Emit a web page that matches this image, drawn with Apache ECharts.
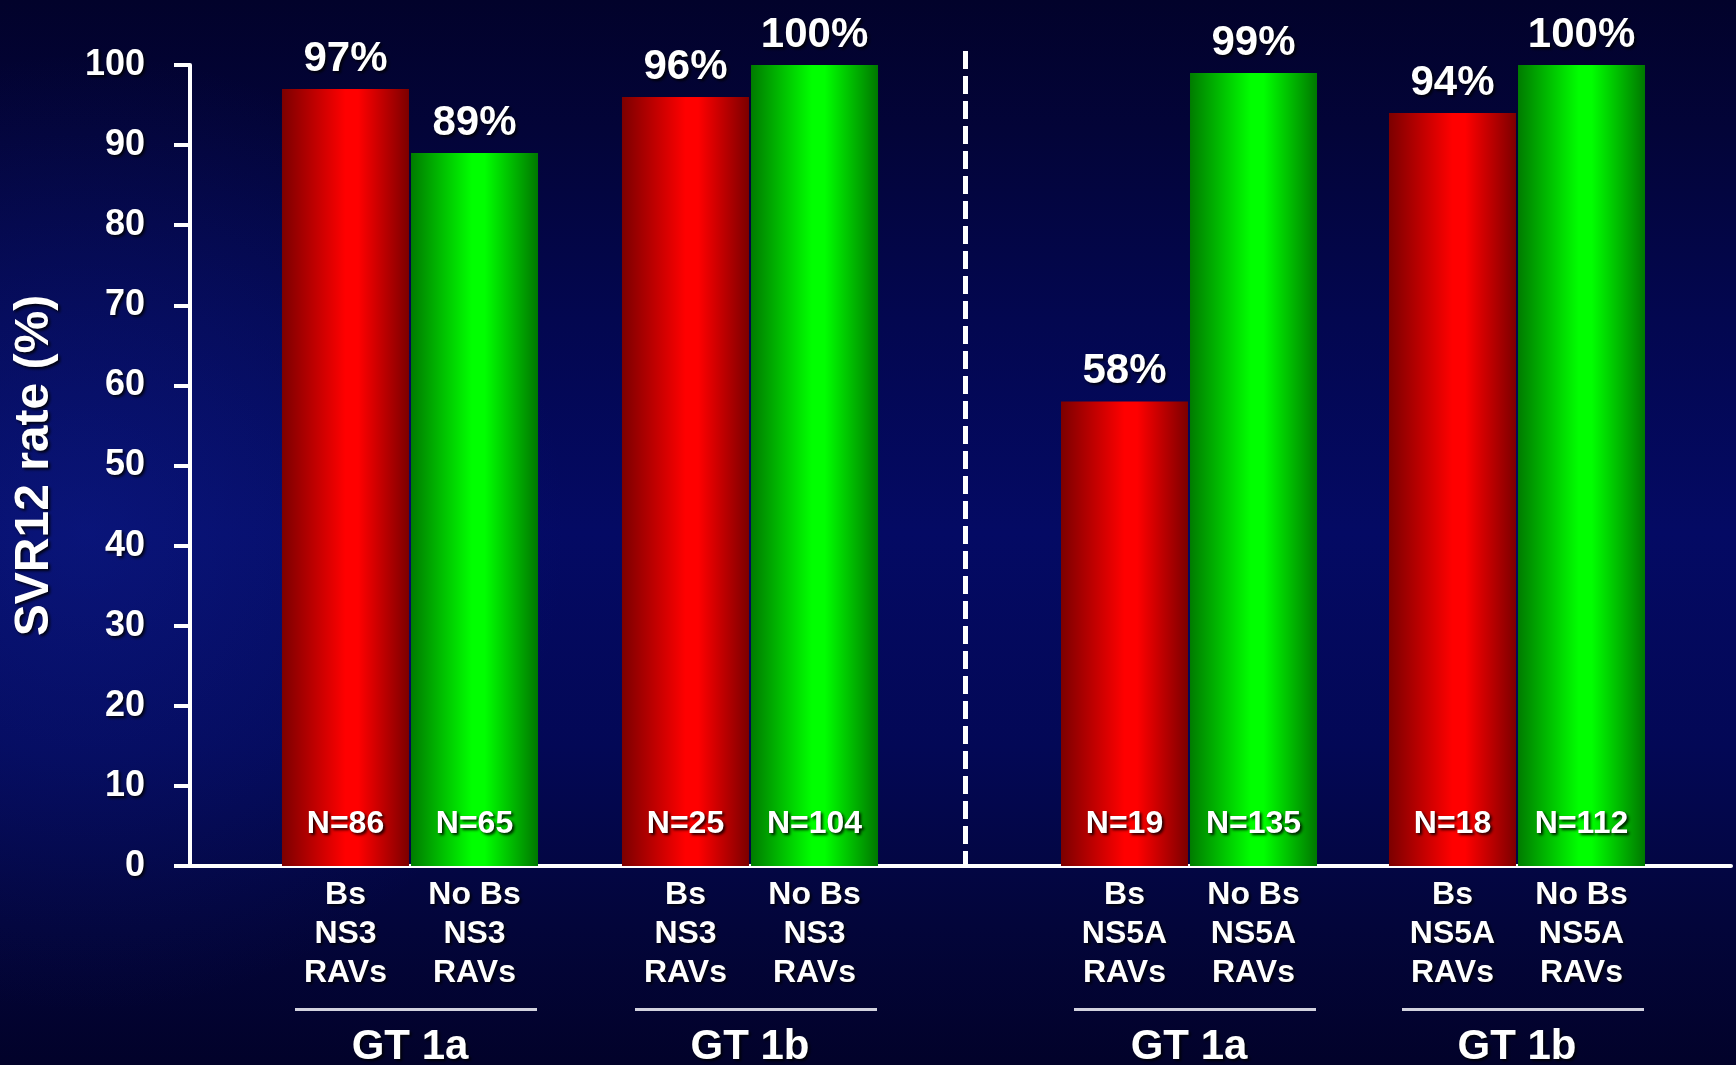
<!DOCTYPE html>
<html>
<head>
<meta charset="utf-8">
<script src="https://cdn.jsdelivr.net/npm/echarts@6/dist/echarts.min.js"></script>
<style>
  html, body { margin: 0; padding: 0; background: #03042e; }
  #chart { width: 1736px; height: 1065px; }
</style>
</head>
<body>
<div id="chart"></div>
<script>
// SVR12 rates by baseline RAV status, genotype 1a / 1b
const groups = ['GT 1a', 'GT 1b'];

const ns3Bs = [97, 96];
const ns3NoBs = [89, 100];
const ns3BsN = [86, 25];
const ns3NoBsN = [65, 104];

const ns5aBs = [58, 94];
const ns5aNoBs = [99, 100];
const ns5aBsN = [19, 18];
const ns5aNoBsN = [135, 112];

const ns3Tags = [['Bs', 'NS3', 'RAVs'], ['No Bs', 'NS3', 'RAVs']];
const ns5aTags = [['Bs', 'NS5A', 'RAVs'], ['No Bs', 'NS5A', 'RAVs']];

const yMin = 0, yMax = 100, yStep = 10;
const yName = 'SVR12 rate (%)';

const FONT = '"Liberation Sans", Arial, sans-serif';
const shadow = {
  textShadowColor: 'rgba(0,0,0,0.85)',
  textShadowBlur: 3,
  textShadowOffsetX: 2,
  textShadowOffsetY: 2
};

// layout
const W = 1736, H = 1065;
const TOP = 65, BOTTOM = 199;
const BAR_W = 127;
const leftGrid = { left: 240, right: 816 };
const rightGrid = { left: 1025, right: 55 };

const redFill = new echarts.graphic.LinearGradient(0, 0, 1, 0, [
  { offset: 0, color: '#7c0000' },
  { offset: 0.5, color: '#ff0000' },
  { offset: 0.6, color: '#ff0000' },
  { offset: 1, color: '#7c0000' }
]);
const greenFill = new echarts.graphic.LinearGradient(0, 0, 1, 0, [
  { offset: 0, color: '#007c00' },
  { offset: 0.48, color: '#00ff00' },
  { offset: 0.58, color: '#00ff00' },
  { offset: 1, color: '#007800' }
]);

const subStyle = Object.assign({
  width: 129, align: 'center', fontSize: 32, lineHeight: 39,
  fontWeight: 'bold', fontFamily: FONT, color: '#ffffff'
}, shadow);

function groupLabel(tags) {
  return function (value) {
    const rows = [0, 1, 2].map(i => '{a|' + tags[0][i] + '}{b|' + tags[1][i] + '}');
    return rows.join('\n') + '\n{sp|}{hr|}\n{g|' + value + '}';
  };
}

function categoryAxis(gridIndex, tags, showLabel) {
  return {
    type: 'category',
    gridIndex: gridIndex,
    data: groups,
    axisLine: { show: false },
    axisTick: { show: false },
    axisLabel: showLabel ? {
      show: true,
      interval: 0,
      margin: 10,
      formatter: groupLabel(tags),
      color: '#ffffff',
      fontFamily: FONT,
      fontWeight: 'bold',
      ...shadow,
      rich: {
        a: subStyle,
        b: subStyle,
        sp: { width: 12, height: 3, lineHeight: 33 },
        hr: { width: 242, height: 3, lineHeight: 33, backgroundColor: '#d2d2de' },
        g: Object.assign({ fontSize: 42, lineHeight: 43, fontWeight: 'bold', fontFamily: FONT, color: '#ffffff' }, shadow)
      }
    } : { show: false }
  };
}

function hiddenValueAxis(gridIndex) {
  return {
    type: 'value', gridIndex: gridIndex, min: yMin, max: yMax,
    axisLine: { show: false }, axisTick: { show: false },
    axisLabel: { show: false }, splitLine: { show: false }
  };
}

function barSeries(name, xIdx, yIdx, data, fill) {
  return {
    name: name, type: 'bar', xAxisIndex: xIdx, yAxisIndex: yIdx,
    data: data, barWidth: BAR_W, barGap: '1.6%',
    itemStyle: { color: fill },
    label: Object.assign({
      show: true, position: 'top', distance: 9,
      formatter: '{c}%', fontSize: 42, fontWeight: 'bold',
      fontFamily: FONT, color: '#ffffff'
    }, shadow)
  };
}

function countSeries(name, xIdx, yIdx, data, counts) {
  return {
    name: name, type: 'bar', xAxisIndex: xIdx, yAxisIndex: yIdx,
    data: data, barWidth: BAR_W, barGap: '1.6%', silent: true, z: 3,
    itemStyle: { color: 'rgba(0,0,0,0)' },
    label: Object.assign({
      show: true, position: 'insideBottom', distance: 26,
      formatter: p => 'N=' + counts[p.dataIndex],
      fontSize: 32, fontWeight: 'bold', fontFamily: FONT, color: '#ffffff'
    }, shadow)
  };
}

// dashed separator between the NS3 and NS5A panels
const dividerX = (W - leftGrid.right + rightGrid.left) / 2 - 7;

const gridBase = { top: TOP, bottom: BOTTOM, outerBoundsMode: 'none', containLabel: false };

const option = {
  animation: false,
  backgroundColor: '#03042e',
  textStyle: { fontFamily: FONT },
  graphic: [
    {
      type: 'rect', z: -20, silent: true,
      shape: { x: 0, y: 0, width: W, height: H },
      style: {
        fill: new echarts.graphic.LinearGradient(0, 0, 0, 1, [
          { offset: 0, color: '#02022b' },
          { offset: 0.12, color: '#030438' },
          { offset: 0.3, color: '#030750' },
          { offset: 0.5, color: '#040a64' },
          { offset: 0.7, color: '#030856' },
          { offset: 0.87, color: '#03053a' },
          { offset: 1, color: '#02022a' }
        ])
      }
    },
    {
      type: 'rect', z: -19, silent: true,
      shape: { x: 0, y: 0, width: W, height: H },
      style: {
        fill: new echarts.graphic.RadialGradient(0.05, 0.5, 0.45, [
          { offset: 0, color: 'rgba(20,40,160,0.35)' },
          { offset: 1, color: 'rgba(20,40,160,0)' }
        ])
      }
    },
    {
      type: 'line', z: 5, silent: true,
      shape: { x1: dividerX, y1: 51, x2: dividerX, y2: H - BOTTOM },
      style: { stroke: '#ffffff', lineWidth: 5, lineDash: [18, 7] }
    }
  ],
  grid: [
    Object.assign({ left: 190, right: 5 }, gridBase),
    Object.assign({ left: leftGrid.left, right: leftGrid.right }, gridBase),
    Object.assign({ left: rightGrid.left, right: rightGrid.right }, gridBase)
  ],
  xAxis: [
    {
      type: 'value', gridIndex: 0, min: 0, max: 1,
      axisLine: { show: true, lineStyle: { color: '#ffffff', width: 4 } },
      axisTick: { show: false }, axisLabel: { show: false }, splitLine: { show: false }
    },
    categoryAxis(1, ns3Tags, true),
    categoryAxis(1, ns3Tags, false),
    categoryAxis(2, ns5aTags, true),
    categoryAxis(2, ns5aTags, false)
  ],
  yAxis: [
    {
      type: 'value', gridIndex: 0, min: yMin, max: yMax, interval: yStep,
      name: yName, nameLocation: 'middle', nameRotate: 90, nameGap: 131,
      nameTextStyle: Object.assign({ fontSize: 48, fontWeight: 'bold', fontFamily: FONT, color: '#ffffff' }, shadow),
      axisLine: { show: true, lineStyle: { color: '#ffffff', width: 4 } },
      axisTick: { show: true, inside: false, length: 16, lineStyle: { color: '#ffffff', width: 4 } },
      axisLabel: Object.assign({ margin: 45, fontSize: 36, fontWeight: 'bold', fontFamily: FONT, color: '#ffffff' }, shadow),
      splitLine: { show: false }
    },
    hiddenValueAxis(1),
    hiddenValueAxis(2)
  ],
  series: [
    barSeries('NS3 Bs', 1, 1, ns3Bs, redFill),
    barSeries('NS3 No Bs', 1, 1, ns3NoBs, greenFill),
    countSeries('NS3 Bs N', 2, 1, ns3Bs, ns3BsN),
    countSeries('NS3 No Bs N', 2, 1, ns3NoBs, ns3NoBsN),
    barSeries('NS5A Bs', 3, 2, ns5aBs, redFill),
    barSeries('NS5A No Bs', 3, 2, ns5aNoBs, greenFill),
    countSeries('NS5A Bs N', 4, 2, ns5aBs, ns5aBsN),
    countSeries('NS5A No Bs N', 4, 2, ns5aNoBs, ns5aNoBsN)
  ]
};

const chart = echarts.init(document.getElementById('chart'), null, { renderer: 'canvas' });
chart.setOption(option);
</script>
</body>
</html>
